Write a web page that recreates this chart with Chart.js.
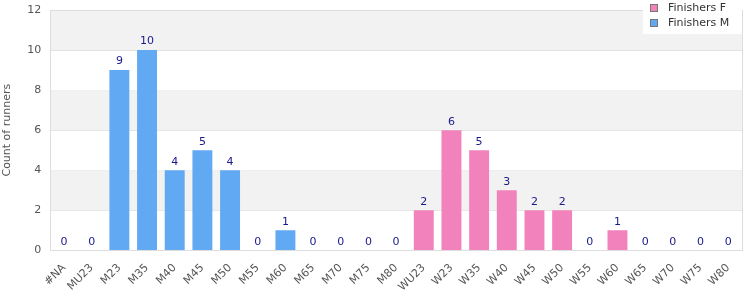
<!DOCTYPE html>
<html>
<head>
<meta charset="utf-8">
<script src="https://cdn.jsdelivr.net/npm/chart.js@4.4.1/dist/chart.umd.min.js"></script>
<style>
  html, body { margin: 0; padding: 0; background: #fff; }
  #wrap { width: 750px; height: 300px; position: relative; }
</style>
</head>
<body>
<div id="wrap"><canvas id="chart"></canvas></div>
<script>
const categories = ['#NA', 'MU23', 'M23', 'M35', 'M40', 'M45', 'M50', 'M55', 'M60', 'M65', 'M70', 'M75', 'M80',
    'WU23', 'W23', 'W35', 'W40', 'W45', 'W50', 'W55', 'W60', 'W65', 'W70', 'W75', 'W80'];
const finishersF = [null, null, null, null, null, null, null, null, null, null, null, null, null,
    2, 6, 5, 3, 2, 2, 0, 1, 0, 0, 0, 0];
const finishersM = [0, 0, 9, 10, 4, 5, 4, 0, 1, 0, 0, 0, 0,
    null, null, null, null, null, null, null, null, null, null, null, null];
const yTicks = [0, 2, 4, 6, 8, 10, 12];

const FONT = 'DejaVu Sans';

// Alternating bands + frame around the plot area
const bandsPlugin = {
    id: 'bands',
    beforeDatasetsDraw(chart) {
        const { ctx, chartArea: a, scales: { y } } = chart;
        ctx.save();
        for (let i = 0; i < yTicks.length - 1; i++) {
            if (i % 2 === 1) {
                const top = y.getPixelForValue(yTicks[i + 1]);
                const bot = y.getPixelForValue(yTicks[i]);
                ctx.fillStyle = '#f2f2f2';
                ctx.fillRect(a.left, top, a.right - a.left, bot - top);
            }
        }
        ctx.restore();
    },
    afterDraw(chart) {
        const { ctx, chartArea: a } = chart;
        ctx.save();
        ctx.strokeStyle = '#dddddd';
        ctx.lineWidth = 1;
        ctx.strokeRect(Math.round(a.left) + 0.5, Math.round(a.top) + 0.5,
            Math.round(a.right - a.left), Math.round(a.bottom - a.top));
        ctx.restore();
    }
};

// Value labels over each stack
const valueLabels = {
    id: 'valueLabels',
    afterDatasetsDraw(chart) {
        const { ctx, scales: { x, y } } = chart;
        ctx.save();
        ctx.font = '11px ' + FONT;
        ctx.fillStyle = '#1a1a8c';
        ctx.textAlign = 'center';
        ctx.textBaseline = 'bottom';
        categories.forEach((c, i) => {
            const v = (finishersF[i] ?? 0) + (finishersM[i] ?? 0);
            ctx.fillText(String(v), x.getPixelForValue(i), y.getPixelForValue(v) - 3);
        });
        ctx.restore();
    }
};

// Legend box drawn in the top right corner over the plot
const cornerLegend = {
    id: 'cornerLegend',
    afterDraw(chart) {
        const { ctx } = chart;
        const items = [['Finishers F', '#f282bb'], ['Finishers M', '#62a9f3']];
        ctx.save();
        ctx.fillStyle = '#ffffff';
        ctx.fillRect(643, 0, 99, 34);
        ctx.font = '11px ' + FONT;
        ctx.textBaseline = 'middle';
        items.forEach(([label, color], i) => {
            const cy = 8 + i * 15;
            ctx.fillStyle = color;
            ctx.fillRect(650, cy - 4, 8, 8);
            ctx.strokeStyle = '#777';
            ctx.lineWidth = 1;
            ctx.strokeRect(650.5, cy - 3.5, 7, 7);
            ctx.fillStyle = '#333';
            ctx.fillText(label, 668, cy);
        });
        ctx.restore();
    }
};

new Chart(document.getElementById('chart'), {
    type: 'bar',
    data: {
        labels: categories,
        datasets: [
            { label: 'Finishers F', data: finishersF, backgroundColor: '#f282bb', categoryPercentage: 1, barPercentage: 0.72 },
            { label: 'Finishers M', data: finishersM, backgroundColor: '#62a9f3', categoryPercentage: 1, barPercentage: 0.72 }
        ]
    },
    options: {
        responsive: true,
        maintainAspectRatio: false,
        animation: false,
        layout: { padding: { top: 10, right: 8, left: 0, bottom: 3 } },
        plugins: { legend: { display: false }, tooltip: { enabled: false } },
        scales: {
            x: {
                stacked: true,
                grid: { display: false },
                border: { display: false },
                ticks: { color: '#555', font: { family: FONT, size: 11 }, minRotation: 45, maxRotation: 45, autoSkip: false }
            },
            y: {
                stacked: true,
                min: 0,
                max: 12,
                ticks: { stepSize: 2, color: '#555', font: { family: FONT, size: 11 }, padding: 9 },
                grid: { color: '#e2e2e2', drawTicks: false },
                border: { display: false },
                title: { display: true, text: 'Count of runners', color: '#555', font: { family: FONT, size: 11 }, padding: { top: 1, bottom: 4 } },
                afterFit(scale) { scale.paddingTop = 0; }
            }
        }
    },
    plugins: [bandsPlugin, valueLabels, cornerLegend]
});
</script>
</body>
</html>
